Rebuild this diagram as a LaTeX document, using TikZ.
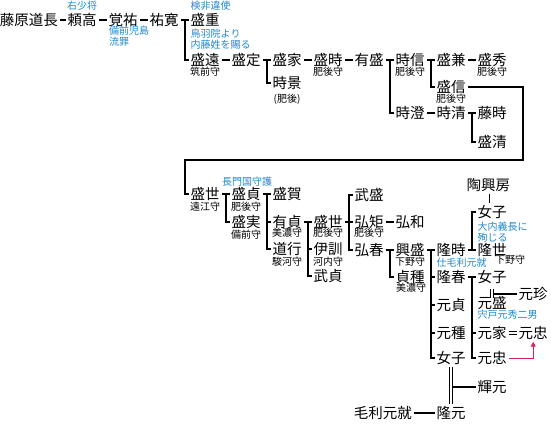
\documentclass[tikz,border=0pt]{standalone}
\usepackage{fontspec}
\newfontfamily\jpfont{Noto Sans CJK JP}
\usepackage{tikz}
\usetikzlibrary{positioning, calc, arrows.meta}
\definecolor{noteblue}{RGB}{30,136,204}
\definecolor{adoptred}{RGB}{214,30,96}
\tikzset{
    person/.style={font=\jpfont\fontsize{14.5}{15}\selectfont, inner sep=2pt, anchor=west, text height=11.5pt, text depth=1.5pt},
    office/.style={font=\jpfont\fontsize{10}{11}\selectfont, inner sep=0pt, text height=8.2pt, text depth=1pt},
    remark/.style={font=\jpfont\fontsize{10}{11}\selectfont, inner sep=0pt, text=noteblue, align=left},
    link/.style={line width=2pt},
    marry/.style={double, double distance=2pt, line width=0.8pt},
    adopt/.style={line width=1pt, draw=adoptred, -{Triangle[width=5pt,length=5pt]}}
}
\begin{document}
\begin{tikzpicture}[x=1pt, y=-1pt]
    \useasboundingbox (0,0) rectangle (551,423);

    % prima riga
    \node[person] (fujiwara) at (-2.3,20) {藤原道長};
    \node[person] (yoritaka) at (65.5,20) {頼高};
    \node[person] (kakuyu) at (106.5,20) {覚祐};
    \node[person] (yukan) at (147.5,20) {祐寛};
    \node[person] (morishige) at (188.5,20) {盛重};
    \node[person] (morito) at (188.5,60) {盛遠};
    \node[person] (morisada) at (229.5,60) {盛定};
    \node[person] (moriie) at (270.5,60) {盛家};
    \node[person] (tokikage) at (270.5,83) {時景};
    \node[person] (moritoki) at (311.5,60) {盛時};
    \node[person] (arimori) at (352.5,60) {有盛};
    \node[person] (tokinobu) at (393.5,60) {時信};
    \node[person] (morikane) at (434.5,60) {盛兼};
    \node[person] (morihide) at (475.5,60) {盛秀};
    \node[person] (morinobu) at (434.5,87) {盛信};
    \node[person] (tokizumi) at (393.5,113) {時澄};
    \node[person] (tokikiyo) at (434.5,113) {時清};
    \node[person] (fujitoki) at (475.5,113) {藤時};
    \node[person] (morikiyo) at (475.5,142) {盛清};

    % seconda parte
    \node[person] (moriyo) at (188.5,194) {盛世};
    \node[person] (morisada2) at (229.5,194) {盛貞};
    \node[person] (morizane) at (229.5,222) {盛実};
    \node[person] (moriga) at (270.5,194) {盛賀};
    \node[person] (arisada) at (270.5,222) {有貞};
    \node[person] (michiyuki) at (270.5,249) {道行};
    \node[person] (moriyo2) at (311.5,222) {盛世};
    \node[person] (koreyuki) at (311.5,249) {伊訓};
    \node[person] (takesada) at (311.5,276) {武貞};
    \node[person] (takemori) at (352.5,195) {武盛};
    \node[person] (hironori) at (352.5,222) {弘矩};
    \node[person] (hirokazu) at (393.5,222) {弘和};
    \node[person] (hiroharu) at (352.5,250) {弘春};
    \node[person] (okimori) at (393.5,250) {興盛};
    \node[person] (sadatane) at (393.5,277) {貞種};
    \node[person] (takatoki) at (434.5,250) {隆時};
    \node[person] (takaharu) at (434.5,277) {隆春};
    \node[person] (motosada) at (434.5,305) {元貞};
    \node[person] (mototane) at (434.5,333) {元種};
    \node[person] (nyoshiA) at (434.5,358) {女子};
    \node[person] (okifusa) at (464.5,185) {陶興房};
    \node[person] (nyoshiB) at (475.5,212) {女子};
    \node[person] (takayo) at (475.5,250) {隆世};
    \node[person] (nyoshiC) at (475.5,277) {女子};
    \node[person] (motomori) at (475.5,303) {元盛};
    \node[person] (motochin) at (516.5,294) {元珍};
    \node[person] (motoie) at (475.5,333) {元家};
    \node[person] (motota) at (516.5,333) {元忠};
    \node[person] (motota2) at (475.5,358) {元忠};
    \node[person] (terumoto) at (475.5,387) {輝元};
    \node[person] (takamoto) at (434.5,413) {隆元};
    \node[person, anchor=east] (motonari) at (414,413) {毛利元就};

    % cariche
    \node[office] (morito-t) at (205,72) {筑前守};
    \node[office] (tokikage-t) at (287,99) {(肥後)};
    \node[office] (moritoki-t) at (328,72) {肥後守};
    \node[office] (tokinobu-t) at (410,72) {肥後守};
    \node[office] (morihide-t) at (492,72) {肥後守};
    \node[office] (morinobu-t) at (451,99) {肥後守};
    \node[office] (moriyo-t) at (205,207) {遠江守};
    \node[office] (morisada2-t) at (246,207) {肥後守};
    \node[office] (morizane-t) at (246,235) {備前守};
    \node[office] (arisada-t) at (287,233) {美濃守};
    \node[office] (michiyuki-t) at (287,262) {駿河守};
    \node[office] (moriyo2-t) at (328,233) {肥後守};
    \node[office] (koreyuki-t) at (328,262) {河内守};
    \node[office] (hironori-t) at (369,233) {肥後守};
    \node[office] (okimori-t) at (410,262) {下野守};
    \node[office] (sadatane-t) at (411,288) {美濃守};
    \node[office] (takayo-t) at (510,260) {下野守};

    % note
    \node[remark] (note-yoritaka) at (82,6) {右少将};
    \node[remark, anchor=west] (note-kakuyu) at (109,36.5) {備前児島\\流罪};
    \node[remark, anchor=west] (note-morishige) at (190.5,6) {検非違使};
    \node[remark, anchor=west] (note-morito) at (190.5,39) {鳥羽院より\\内藤姓を賜る};
    \node[remark] (note-morisada2) at (247,182) {長門国守護};
    \node[remark, anchor=west] (note-takayo) at (477.5,232) {大内義長に\\殉じる};
    \node[remark, anchor=west] (note-takaharu) at (436.5,263) {仕毛利元就};
    \node[remark, anchor=west] (note-motomori) at (477.5,315) {宍戸元秀二男};

    \coordinate (bendA) at (523,160);
    \coordinate (bendB) at (185,160);
    \coordinate (wedC) at (492,293.5);

    \draw[link] (fujiwara) -- (yoritaka) -- (kakuyu) -- (yukan) -- (morishige);
    \draw[link] ($(yukan.east)!.5!(morishige.west)$) |- (morito);
    \draw[link] (morito) -- (morisada) -- (moriie) -- (moritoki) -- (arimori) -- (tokinobu) -- (morikane) -- (morihide);
    \draw[link] ($(morisada.east)!.5!(moriie.west)$) |- (tokikage);
    \draw[link] ($(arimori.east)!.5!(tokinobu.west)$) |- (tokizumi);
    \draw[link] ($(tokinobu.east)!.5!(morikane.west)$) |- (morinobu);
    \draw[link] (tokizumi) -- (tokikiyo) -- (fujitoki);
    \draw[link] ($(tokikiyo.east)!.5!(fujitoki.west)$) |- (morikiyo);
    \draw[link] (morinobu) -| (bendA) -- (bendB) |- (moriyo);

    \draw[link] (moriyo) -- (morisada2) -- (moriga);
    \draw[link] ($(moriyo.east)!.5!(morisada2.west)$) |- (morizane);
    \draw[link] ($(morisada2.east)!.5!(moriga.west)$) coordinate (sadaT) |- (arisada) (sadaT) |- (michiyuki);
    \draw[link] (arisada) -- (moriyo2) -- (hironori) -- (hirokazu);
    \draw[link] ($(arisada.east)!.5!(moriyo2.west)$) coordinate (ariT) |- (koreyuki) (ariT) |- (takesada);
    \draw[link] (takemori) -| ($(moriyo2.east)!.5!(hironori.west)$) |- (hiroharu);
    \draw[link] (hiroharu) -- (okimori) -- (takatoki) -- (takayo);
    \draw[link] ($(hiroharu.east)!.5!(okimori.west)$) |- (sadatane);
    \draw[link] ($(okimori.east)!.5!(takatoki.west)$) coordinate (okiT) |- (takaharu) (okiT) |- (motosada) (okiT) |- (mototane) (okiT) |- (nyoshiA);
    \draw[link] ($(takatoki.east)!.5!(takayo.west)$) |- (nyoshiB);
    \draw[link] (takaharu) -- (nyoshiC);
    \draw[link] ($(takaharu.east)!.5!(nyoshiC.west)$) coordinate (haruT) |- (motoie) (haruT) |- (motota2);
    \draw[link] (motonari) -- (takamoto);

    % matrimoni
    \draw[marry] (okifusa.south) -- (okifusa.south |- nyoshiB.north);
    \draw[marry] ([yshift=4.5pt]wedC) -- ([yshift=-4.5pt]wedC);
    \draw[link] ([xshift=2pt]wedC) -- (wedC -| motochin.west);
    \draw[marry] (motoie) -- (motota);
    \draw[marry] (nyoshiA) -- (takamoto);
    \draw[link] ([xshift=2pt]nyoshiA.south |- terumoto) -- (terumoto);

    % adozione
    \draw[adopt] (motota2) -| (motota);
\end{tikzpicture}
\end{document}
